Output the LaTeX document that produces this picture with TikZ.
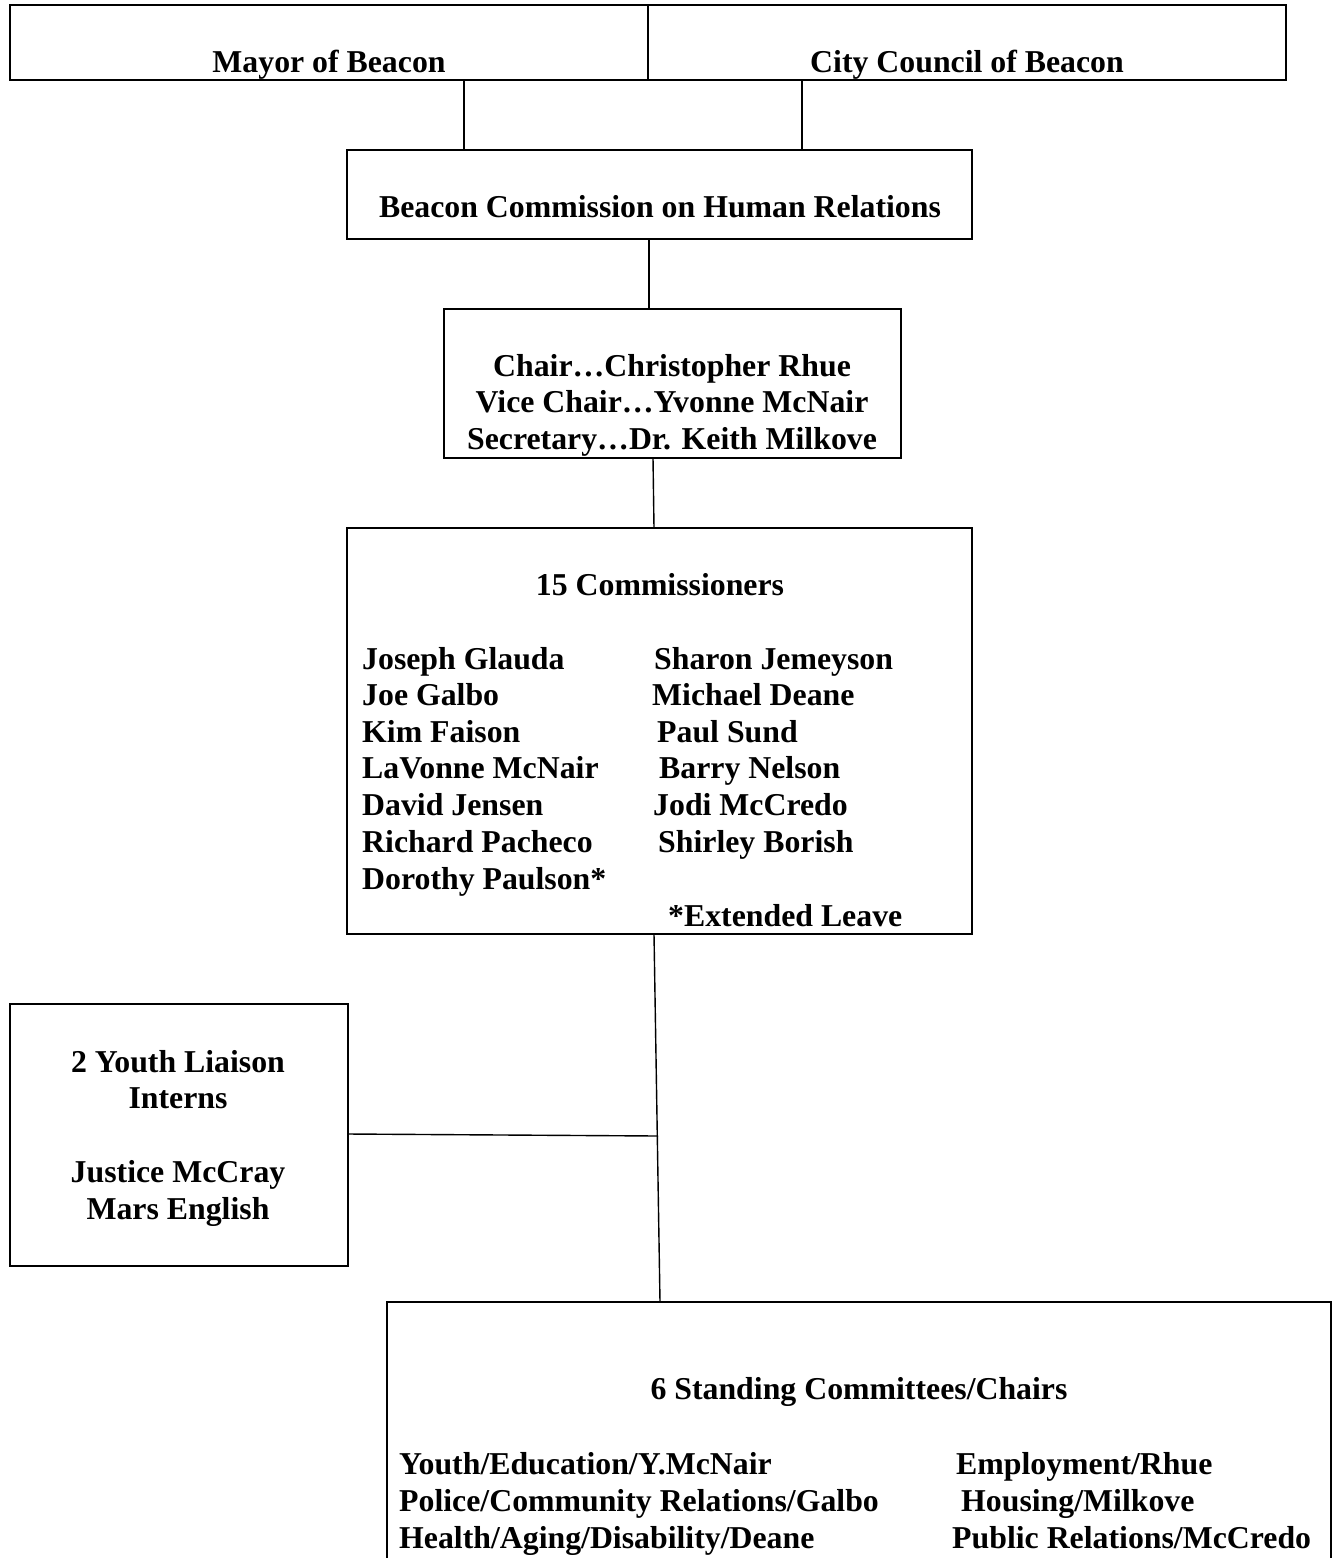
\documentclass[tikz,border=0pt]{standalone}
\usepackage{fontspec}
\setmainfont{Liberation Serif}
\begin{document}
\begin{tikzpicture}[x=1pt,y=-1pt,
  box/.style={draw,line width=2pt,inner sep=0pt,outer sep=0pt,anchor=north west},
  conn/.style={line width=1.4pt},
  lbl/.style={inner sep=0pt,anchor=base,font=\bfseries\fontsize{31.8}{36.6}\selectfont},
  lbll/.style={lbl,anchor=base west}]
\useasboundingbox (0,0) rectangle (1334,1558);
\clip (0,0) rectangle (1334,1558);
% boxes
\node[box,minimum width=638pt,minimum height=75pt] (mayor) at (10,5) {};
\node[box,minimum width=638pt,minimum height=75pt] (council) at (648,5) {};
\node[box,minimum width=625pt,minimum height=89pt] (commission) at (347,150) {};
\node[box,minimum width=457pt,minimum height=149pt] (officers) at (444,309) {};
\node[box,minimum width=625pt,minimum height=406pt] (commissioners) at (347,528) {};
\node[box,minimum width=338pt,minimum height=262pt] (youth) at (10,1004) {};
\node[box,minimum width=944pt,minimum height=320pt] (standing) at (387,1302) {};
% texts
\node[lbl] (mayorT) at (329,72) {Mayor of Beacon};
\node[lbl] (councilT) at (967,72) {City Council of Beacon};
\node[lbl] (commissionT) at (660,217) {Beacon Commission on Human Relations};
\node[lbl] (off1) at (672,376) {Chair…Christopher Rhue};
\node[lbl] (off2) at (672,412) {Vice Chair…Yvonne McNair};
\node[lbl] (off3) at (672,449) {Secretary…Dr. Keith Milkove};
\node[lbl] (comT) at (660,595) {15 Commissioners};
\node[lbll] (l1) at (362,669) {Joseph Glauda};
\node[lbll] (l2) at (362,705) {Joe Galbo};
\node[lbll] (l3) at (362,742) {Kim Faison};
\node[lbll] (l4) at (362,778) {LaVonne McNair};
\node[lbll] (l5) at (362,815) {David Jensen};
\node[lbll] (l6) at (362,852) {Richard Pacheco};
\node[lbll] (l7) at (362,889) {Dorothy Paulson*};
\node[lbll] (r1) at (654,669) {Sharon Jemeyson};
\node[lbll] (r2) at (652,705) {Michael Deane};
\node[lbll] (r3) at (657,742) {Paul Sund};
\node[lbll] (r4) at (659,778) {Barry Nelson};
\node[lbll] (r5) at (653,815) {Jodi McCredo};
\node[lbll] (r6) at (658,852) {Shirley Borish};
\node[lbll] (leave) at (668,926) {*Extended Leave};
\node[lbl] (y1) at (178,1072) {2 Youth Liaison};
\node[lbl] (y2) at (178,1108) {Interns};
\node[lbl] (y3) at (178,1182) {Justice McCray};
\node[lbl] (y4) at (178,1219) {Mars English};
\node[lbl] (stT) at (859,1399) {6 Standing Committees/Chairs};
\node[lbll] (s1) at (399,1474) {Youth/Education/Y.McNair};
\node[lbll] (s2) at (399,1511) {Police/Community Relations/Galbo};
\node[lbll] (s3) at (399,1548) {Health/Aging/Disability/Deane};
\node[lbll] (s4) at (956,1474) {Employment/Rhue};
\node[lbll] (s5) at (961,1511) {Housing/Milkove};
\node[lbll] (s6) at (952,1548) {Public Relations/McCredo};
% connector end points
\coordinate (ma) at (464,80);  \coordinate (mb) at (464,150);
\coordinate (ca) at (802,80);  \coordinate (cb) at (802,150);
\coordinate (ha) at (649,239); \coordinate (hb) at (649,309);
\coordinate (oa) at (653,458); \coordinate (ob) at (654,528);
\coordinate (ka) at (654,934); \coordinate (kb) at (660,1302);
\coordinate (ya) at (348,1134); \coordinate (yb) at (658,1136);
\draw[conn] (ma) -- (mb);
\draw[conn] (ca) -- (cb);
\draw[conn] (ha) -- (hb);
\draw[conn] (oa) -- (ob);
\draw[conn] (ka) -- (kb);
\draw[conn] (ya) -- (yb);
\end{tikzpicture}
\end{document}
